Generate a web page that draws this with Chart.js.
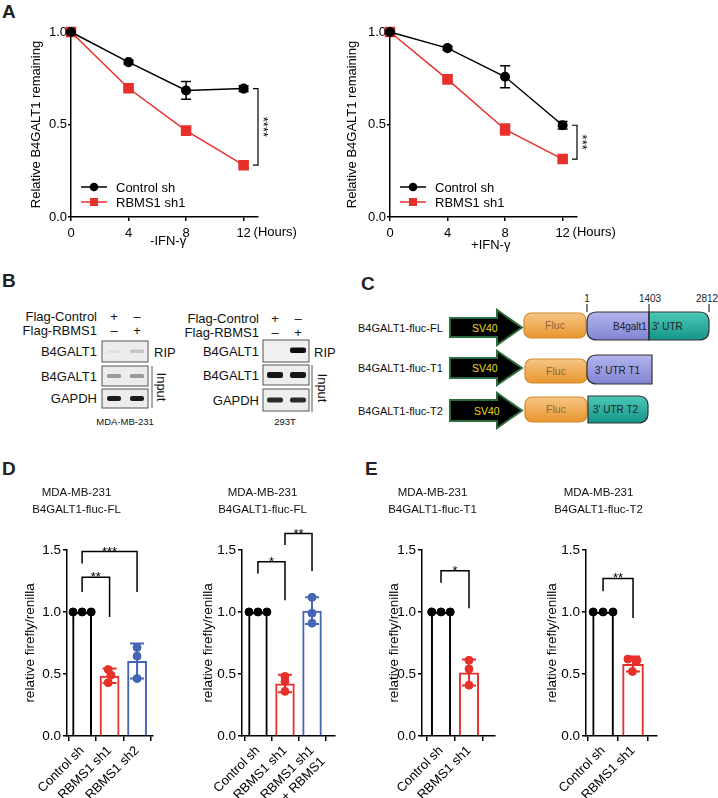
<!DOCTYPE html>
<html>
<head>
<meta charset="utf-8">
<script src="https://cdn.jsdelivr.net/npm/chart.js@4.4.1/dist/chart.umd.min.js"></script>
<style>
  body { margin: 0; background: #fff; }
  #fig { position: relative; width: 718px; height: 798px; overflow: hidden; font-family: "Liberation Sans", Arial, sans-serif; }
  .cv { position: absolute; }
  svg { position: absolute; left: 0; top: 0; }
</style>
</head>
<body>
<div id="fig">
  <svg width="718" height="798" font-family="Liberation Sans, Arial, sans-serif" fill="#111">
    <defs>
      <filter id="soft" x="-30%" y="-80%" width="160%" height="260%"><feGaussianBlur stdDeviation="0.7"/></filter>
      <linearGradient id="gOr" x1="0" y1="0" x2="0" y2="1"><stop offset="0" stop-color="#f7c685"/><stop offset="1" stop-color="#e8962e"/></linearGradient>
      <linearGradient id="gPu" x1="0" y1="0" x2="0" y2="1"><stop offset="0" stop-color="#b3b5ee"/><stop offset="1" stop-color="#8184d2"/></linearGradient>
      <linearGradient id="gTe" x1="0" y1="0" x2="0" y2="1"><stop offset="0" stop-color="#4cc9b7"/><stop offset="1" stop-color="#14958a"/></linearGradient>
    </defs>
    <!-- panel letters -->
    <g font-size="19" font-weight="bold" fill="#222">
      <text x="2" y="18">A</text>
      <text x="2" y="287">B</text>
      <text x="361" y="290">C</text>
      <text x="2" y="475">D</text>
      <text x="365" y="475">E</text>
    </g>

    <!-- B: MDA-MB-231 blot -->
    <g font-size="13">
      <text x="97" y="320.5" text-anchor="end">Flag-Control</text>
      <text x="97" y="334.5" text-anchor="end">Flag-RBMS1</text>
      <text x="114" y="320.5" text-anchor="middle">+</text>
      <text x="137" y="320.5" text-anchor="middle">–</text>
      <text x="114" y="334.5" text-anchor="middle">–</text>
      <text x="137" y="334.5" text-anchor="middle">+</text>
      <text x="97" y="356" text-anchor="end">B4GALT1</text>
      <text x="97" y="380.5" text-anchor="end">B4GALT1</text>
      <text x="97" y="403" text-anchor="end">GAPDH</text>
      <text x="154" y="356.5">RIP</text>
      <text transform="translate(160,387) rotate(90)" text-anchor="middle" dominant-baseline="middle">Input</text>
      <text x="125" y="425" font-size="9.5" text-anchor="middle">MDA-MB-231</text>
    </g>
    <line x1="152" y1="366" x2="152" y2="408" stroke="#555" stroke-width="1"/>
    <rect x="102" y="341" width="46" height="21" fill="#ededed" stroke="#555"/>
    <rect x="102" y="366" width="46" height="20" fill="#ececec" stroke="#555"/>
    <rect x="102" y="389" width="46" height="19" fill="#ececec" stroke="#555"/>
    <g filter="url(#soft)">
      <rect x="107" y="350" width="14" height="3" rx="1.5" fill="#e2e2e2"/>
      <rect x="130" y="349.5" width="14" height="3.5" rx="1.5" fill="#c4c4c4"/>
      <rect x="107" y="374" width="14" height="4" rx="1.5" fill="#9a9a9a"/>
      <rect x="130" y="374" width="14" height="4" rx="1.5" fill="#9a9a9a"/>
      <rect x="107" y="396" width="14" height="5" rx="2" fill="#1e1e1e"/>
      <rect x="130" y="396" width="14" height="5" rx="2" fill="#1e1e1e"/>
    </g>

    <!-- B: 293T blot -->
    <g font-size="13">
      <text x="259" y="322.5" text-anchor="end">Flag-Control</text>
      <text x="259" y="336.5" text-anchor="end">Flag-RBMS1</text>
      <text x="275" y="322.5" text-anchor="middle">+</text>
      <text x="298" y="322.5" text-anchor="middle">–</text>
      <text x="275" y="336.5" text-anchor="middle">–</text>
      <text x="298" y="336.5" text-anchor="middle">+</text>
      <text x="259" y="355.5" text-anchor="end">B4GALT1</text>
      <text x="259" y="380" text-anchor="end">B4GALT1</text>
      <text x="259" y="404.5" text-anchor="end">GAPDH</text>
      <text x="314" y="356.5">RIP</text>
      <text transform="translate(321,388) rotate(90)" text-anchor="middle" dominant-baseline="middle">Input</text>
      <text x="285" y="425" font-size="9.5" text-anchor="middle">293T</text>
    </g>
    <line x1="312" y1="365" x2="312" y2="412" stroke="#555" stroke-width="1"/>
    <rect x="263" y="340" width="46" height="22" fill="#f0f0f0" stroke="#555"/>
    <rect x="263" y="365" width="46" height="20" fill="#eeeeee" stroke="#555"/>
    <rect x="263" y="389" width="46" height="22" fill="#eeeeee" stroke="#555"/>
    <g filter="url(#soft)">
      <rect x="290" y="347.5" width="16" height="5.5" rx="2" fill="#111"/>
      <rect x="267" y="372" width="16" height="6" rx="2" fill="#151515"/>
      <rect x="290" y="372" width="16" height="6" rx="2" fill="#151515"/>
      <rect x="267" y="397.5" width="16" height="5" rx="2" fill="#2a2a2a"/>
      <rect x="290" y="397.5" width="16" height="5" rx="2" fill="#2a2a2a"/>
    </g>

    <!-- C: reporter constructs -->
    <g font-size="11">
      <text x="358" y="332">B4GALT1-fluc-FL</text>
      <text x="358" y="372">B4GALT1-fluc-T1</text>
      <text x="358" y="415">B4GALT1-fluc-T2</text>
    </g>
    <g fill="#000" stroke="#2c6b3c" stroke-width="2" stroke-linejoin="miter">
      <polygon points="450,318 497,318 497,310 522,327.5 497,345 497,337 450,337"/>
      <polygon points="450,358 497,358 497,351 522,368 497,385 497,378 450,378"/>
      <polygon points="450,400 497,400 497,393 522,410.5 497,428 497,421 450,421"/>
    </g>
    <g font-size="10.5" fill="#e6dc1e">
      <text x="472" y="331.5">SV40</text>
      <text x="472" y="372">SV40</text>
      <text x="474" y="414.5">SV40</text>
    </g>
    <g fill="url(#gOr)" stroke="#d0892b" stroke-width="1.2">
      <rect x="524" y="313" width="62" height="25" rx="7"/>
      <rect x="525" y="359" width="62" height="24" rx="7"/>
      <rect x="525" y="397" width="62" height="25" rx="7"/>
    </g>
    <g font-size="10.5" fill="#8b6a3e" text-anchor="middle">
      <text x="555" y="329">Fluc</text>
      <text x="556" y="374.5">Fluc</text>
      <text x="556" y="413">Fluc</text>
    </g>
    <g stroke="#333" stroke-width="1.2">
      <path d="M597 312 H649 V340 H597 Q587 340 587 330 V322 Q587 312 597 312 Z" fill="url(#gPu)"/>
      <path d="M649 312 H699 Q709 312 709 322 V330 Q709 340 699 340 H649 Z" fill="url(#gTe)"/>
      <path d="M597 355 H652 V384 H597 Q587 384 587 374 V365 Q587 355 597 355 Z" fill="url(#gPu)"/>
      <path d="M588 396 H638 Q648 396 648 406 V413 Q648 423 638 423 H588 Z" fill="url(#gTe)"/>
      <line x1="587" y1="304" x2="587" y2="312"/>
      <line x1="649" y1="304" x2="649" y2="340"/>
      <line x1="709" y1="304" x2="709" y2="312"/>
    </g>
    <g font-size="10" fill="#222">
      <text x="587" y="302" text-anchor="middle">1</text>
      <text x="650" y="302" text-anchor="middle">1403</text>
      <text x="707" y="302" text-anchor="middle">2812</text>
      <text x="613" y="330">B4galt1</text>
      <text x="652" y="330">3' UTR</text>
      <text x="595" y="373.5">3' UTR T1</text>
      <text x="593" y="413">3' UTR T2</text>
    </g>
  </svg>

  <canvas class="cv" id="cA1" width="300" height="262" style="left:0px;top:0px"></canvas>
  <canvas class="cv" id="cA2" width="300" height="262" style="left:319px;top:0px"></canvas>
  <canvas class="cv" id="cD1" width="200" height="328" style="left:0px;top:470px"></canvas>
  <canvas class="cv" id="cD2" width="194" height="328" style="left:190px;top:470px"></canvas>
  <canvas class="cv" id="cE1" width="170" height="328" style="left:370px;top:470px"></canvas>
  <canvas class="cv" id="cE2" width="164" height="328" style="left:540px;top:470px"></canvas>
</div>

<script>
// ---- data ----
const hours = [0, 4, 8, 12];
const lineSeries = ["Control sh", "RBMS1 sh1"];
const ctrlMinusIfn = [1.0, 0.837, 0.684, 0.694];
const ctrlMinusIfnSd = [0, 0.01, 0.048, 0.016];
const rbmsMinusIfn = [1.0, 0.696, 0.467, 0.280];
const rbmsMinusIfnSd = [0, 0.008, 0.012, 0.01];
const ctrlPlusIfn = [1.0, 0.913, 0.758, 0.496];
const ctrlPlusIfnSd = [0, 0.01, 0.059, 0.02];
const rbmsPlusIfn = [1.0, 0.744, 0.473, 0.313];
const rbmsPlusIfnSd = [0, 0.01, 0.03, 0.01];
const lineYTicks = [0, 0.5, 1.0];

const barYTicks = [0, 0.5, 1.0, 1.5];

const flGroups = ["Control sh", "RBMS1 sh1", "RBMS1 sh2"];
const flMeans = [1.0, 0.486, 0.605];
const flSd = [0, 0.058, 0.141];
const flReps = [[1, 1, 1], [0.536, 0.49, 0.43], [0.714, 0.644, 0.463]];
const flJitter = [[-0.33, 0, 0.33], [-0.05, 0.05, -0.05], [0, 0, 0]];
const flSig = [[0, 1, 1.28, 1.16, 0.96, "**"], [0, 2, 1.487, 1.39, 1.16, "***"]];

const rescueGroups = ["Control sh", "RBMS1 sh1", ["RBMS1 sh1", "+ RBMS1"]];
const rescueMeans = [1.0, 0.423, 1.01];
const rescueSd = [0, 0.07, 0.108];
const rescueReps = [[1, 1, 1], [0.48, 0.44, 0.36], [1.118, 0.99, 0.91]];
const rescueJitter = [[-0.33, 0, 0.33], [0, 0, 0], [0, 0, 0]];
const rescueSig = [[0, 1, 1.405, 1.31, 1.095, "*"], [1, 2, 1.632, 1.54, 1.33, "**"]];

const t1Groups = ["Control sh", "RBMS1 sh1"];
const t1Means = [1.0, 0.512];
const t1Sd = [0, 0.105];
const t1Reps = [[1, 1, 1], [0.61, 0.54, 0.41]];
const t1Jitter = [[-0.33, 0, 0.33], [0, 0, 0]];
const t1Sig = [[0, 1, 1.333, 1.235, 1.03, "*"]];

const t2Groups = ["Control sh", "RBMS1 sh1"];
const t2Means = [1.0, 0.581];
const t2Sd = [0, 0.06];
const t2Reps = [[1, 1, 1], [0.62, 0.61, 0.52]];
const t2Jitter = [[-0.33, 0, 0.33], [-0.17, 0.13, -0.02]];
const t2Sig = [[0, 1, 1.27, 1.168, 0.952, "**"]];

const BLACK = "#000000";
const RED = "#e8302a";
const BLUE = "#4565b5";
const FONT = "Liberation Sans, Arial, sans-serif";

Chart.defaults.font.family = FONT;
Chart.defaults.color = "#000";
Chart.defaults.animation = false;

// ---- panel A: mRNA decay curves ----
function lineChart(id, ctrl, ctrlSd, rbms, rbmsSd, xTitle, yTitlePad, xTitlePad, stars) {
  const errorBars = {
    id: "errorBars",
    beforeDatasetsDraw(chart) {
      const { ctx, scales: { x, y } } = chart;
      [[ctrl, ctrlSd, BLACK], [rbms, rbmsSd, RED]].forEach(([vals, sd, col]) => {
        ctx.save();
        ctx.strokeStyle = col;
        ctx.lineWidth = 1.5;
        hours.forEach((h, i) => {
          if (!sd[i]) return;
          const px = x.getPixelForValue(h);
          const y1 = y.getPixelForValue(vals[i] + sd[i]);
          const y2 = y.getPixelForValue(vals[i] - sd[i]);
          ctx.beginPath();
          ctx.moveTo(px, y1); ctx.lineTo(px, y2);
          ctx.moveTo(px - 5, y1); ctx.lineTo(px + 5, y1);
          ctx.moveTo(px - 5, y2); ctx.lineTo(px + 5, y2);
          ctx.stroke();
        });
        ctx.restore();
      });
    }
  };
  const extras = {
    id: "extras",
    afterDraw(chart) {
      const { ctx, chartArea: a, scales: { x, y } } = chart;
      ctx.save();
      // "(Hours)" after last tick
      ctx.font = "13px " + FONT;
      ctx.fillStyle = "#000";
      ctx.textBaseline = "top";
      ctx.textAlign = "left";
      ctx.fillText("(Hours)", x.getPixelForValue(12) + 10, a.bottom + 9);
      // legend inside plot
      chart.data.datasets.forEach((ds, i) => {
        const ly = a.top + 155 + i * 15;
        ctx.strokeStyle = ds.borderColor;
        ctx.lineWidth = 1.5;
        ctx.beginPath();
        ctx.moveTo(a.left + 10, ly); ctx.lineTo(a.left + 36, ly);
        ctx.stroke();
        ctx.fillStyle = ds.borderColor;
        if (i === 0) {
          ctx.beginPath(); ctx.arc(a.left + 23, ly, 4.3, 0, Math.PI * 2); ctx.fill();
        } else {
          ctx.fillRect(a.left + 19, ly - 4, 8, 8);
        }
        ctx.fillStyle = "#000";
        ctx.textBaseline = "middle";
        ctx.fillText(ds.label, a.left + 45, ly + 1);
      });
      // significance bracket at 12 h
      const bx = a.right;
      const yA = y.getPixelForValue(ctrl[3]);
      const yB = y.getPixelForValue(rbms[3]);
      ctx.strokeStyle = "#000";
      ctx.lineWidth = 1.2;
      ctx.beginPath();
      ctx.moveTo(bx - 5, yA); ctx.lineTo(bx, yA); ctx.lineTo(bx, yB); ctx.lineTo(bx - 5, yB);
      ctx.stroke();
      ctx.translate(bx + 1, (yA + yB) / 2);
      ctx.rotate(Math.PI / 2);
      ctx.textAlign = "center";
      ctx.textBaseline = "alphabetic";
      ctx.fillText(stars, 0, 0);
      ctx.restore();
    }
  };
  return new Chart(document.getElementById(id), {
    type: "line",
    data: {
      datasets: [
        { label: lineSeries[0], data: hours.map((h, i) => ({ x: h, y: ctrl[i] })),
          borderColor: BLACK, backgroundColor: BLACK, borderWidth: 1.5,
          pointStyle: "circle", pointRadius: 4.3, clip: false },
        { label: lineSeries[1], data: hours.map((h, i) => ({ x: h, y: rbms[i] })),
          borderColor: RED, backgroundColor: RED, borderWidth: 1.5,
          pointStyle: "rect", pointRadius: 6.4, clip: false }
      ]
    },
    options: {
      responsive: false,
      layout: { padding: { left: 0, right: 42, top: 32, bottom: 0 } },
      plugins: { legend: { display: false }, tooltip: { enabled: false } },
      scales: {
        x: {
          type: "linear", min: 0, max: 13,
          afterBuildTicks: s => { s.ticks = hours.map(h => ({ value: h })); },
          afterFit: s => { s.height = 45; },
          ticks: { font: { size: 13 }, padding: 5, callback: v => String(v) },
          grid: { drawOnChartArea: false, tickLength: 4, color: BLACK, lineWidth: 1.5 },
          border: { color: BLACK, width: 1.5 },
          title: { display: true, text: xTitle, font: { size: 13 }, padding: { top: 0, bottom: xTitlePad } }
        },
        y: {
          min: 0, max: 1,
          afterBuildTicks: s => { s.ticks = lineYTicks.map(v => ({ value: v })); },
          afterFit: s => { s.width = 71; },
          ticks: { font: { size: 13 }, padding: 1, callback: v => v.toFixed(1) },
          grid: { drawOnChartArea: false, tickLength: 3, color: BLACK, lineWidth: 1.5 },
          border: { color: BLACK, width: 1.5 },
          title: { display: true, text: "Relative B4GALT1 remaining", font: { size: 13 }, padding: { top: yTitlePad, bottom: 0 } }
        }
      }
    },
    plugins: [errorBars, extras]
  });
}

lineChart("cA1", ctrlMinusIfn, ctrlMinusIfnSd, rbmsMinusIfn, rbmsMinusIfnSd, "  -IFN-γ", 29, 13, "****");
lineChart("cA2", ctrlPlusIfn, ctrlPlusIfnSd, rbmsPlusIfn, rbmsPlusIfnSd, "    +IFN-γ", 26, 9, "***");

// ---- panels D and E: luciferase reporter bars ----
const chartTitles = {
  cD1: "B4GALT1-fluc-FL", cD2: "B4GALT1-fluc-FL", cE1: "B4GALT1-fluc-T1", cE2: "B4GALT1-fluc-T2"
};

function barChart(id, groups, means, sd, reps, jitter, sig, colors, xMin, xMax, yWidth, yTitlePad, rightPad) {
  const errorBars = {
    id: "errorBars",
    afterDatasetsDraw(chart) {
      const { ctx, scales: { x, y } } = chart;
      ctx.save();
      ctx.lineWidth = 2;
      means.forEach((m, i) => {
        if (!sd[i]) return;
        const px = x.getPixelForValue(i);
        const y1 = y.getPixelForValue(m + sd[i]);
        const y2 = y.getPixelForValue(m - sd[i]);
        ctx.strokeStyle = colors[i];
        ctx.beginPath();
        ctx.moveTo(px, y1); ctx.lineTo(px, y2);
        ctx.moveTo(px - 7, y1); ctx.lineTo(px + 7, y1);
        ctx.moveTo(px - 7, y2); ctx.lineTo(px + 7, y2);
        ctx.stroke();
      });
      ctx.restore();
    }
  };
  const brackets = {
    id: "brackets",
    afterDraw(chart) {
      const { ctx, scales: { x, y } } = chart;
      ctx.save();
      ctx.strokeStyle = "#000";
      ctx.fillStyle = "#000";
      ctx.lineWidth = 1.5;
      ctx.font = "13px " + FONT;
      ctx.textAlign = "center";
      sig.forEach(([i, j, top, leftEnd, rightEnd, label]) => {
        const xi = x.getPixelForValue(i), xj = x.getPixelForValue(j);
        const yt = y.getPixelForValue(top);
        ctx.beginPath();
        ctx.moveTo(xi, y.getPixelForValue(leftEnd));
        ctx.lineTo(xi, yt);
        ctx.lineTo(xj, yt);
        ctx.lineTo(xj, y.getPixelForValue(rightEnd));
        ctx.stroke();
        ctx.fillText(label, (xi + xj) / 2, yt + 4);
      });
      ctx.restore();
    }
  };
  const points = reps.map((vals, i) => ({
    type: "scatter",
    data: vals.map((v, k) => ({ x: i + jitter[i][k], y: v })),
    backgroundColor: colors[i], borderColor: colors[i],
    pointRadius: 4, order: 1, clip: false
  }));
  return new Chart(document.getElementById(id), {
    type: "bar",
    data: {
      datasets: [
        { type: "bar", data: means.map((m, i) => ({ x: i, y: m })),
          backgroundColor: "rgba(255,255,255,0)", borderColor: colors, borderWidth: 2,
          borderSkipped: "bottom", categoryPercentage: 1, barPercentage: 0.72, order: 2 },
        ...points
      ]
    },
    options: {
      responsive: false,
      layout: { padding: { left: 0, right: rightPad, top: 0, bottom: 0 } },
      plugins: {
        legend: { display: false },
        tooltip: { enabled: false },
        title: { display: true, text: ["MDA-MB-231", chartTitles[id]], color: "#111",
          font: { size: 11.5, weight: "normal", lineHeight: 1.45 }, padding: { top: 14.6, bottom: 32 } }
      },
      scales: {
        x: {
          type: "linear", min: xMin, max: xMax, offset: false,
          afterBuildTicks: s => { s.ticks = groups.map((g, i) => ({ value: i })); },
          afterFit: s => { s.height = 62; },
          ticks: { font: { size: 13 }, padding: 2, minRotation: 45, maxRotation: 45, autoSkip: false,
            callback: v => groups[v] },
          grid: { drawOnChartArea: false, tickLength: 5, color: BLACK, lineWidth: 1.5 },
          border: { color: BLACK, width: 1.5 }
        },
        y: {
          min: 0, max: 1.5,
          afterBuildTicks: s => { s.ticks = barYTicks.map(v => ({ value: v })); },
          afterFit: s => { s.width = yWidth; },
          ticks: { font: { size: 13.5 }, padding: 2, callback: v => v.toFixed(1) },
          grid: { drawOnChartArea: false, tickLength: 4, color: BLACK, lineWidth: 1.5 },
          border: { color: BLACK, width: 1.5 },
          title: { display: true, text: "relative firefly/renilla", font: { size: 13.5 }, padding: { top: yTitlePad, bottom: 0 } }
        }
      }
    },
    plugins: [errorBars, brackets]
  });
}

barChart("cD1", flGroups, flMeans, flSd, flReps, flJitter, flSig, [BLACK, RED, BLUE], -0.55, 2.58, 67, 22, 47);
barChart("cD2", rescueGroups, rescueMeans, rescueSd, rescueReps, rescueJitter, rescueSig, [BLACK, RED, BLUE], -0.59, 2.85, 52, 10, 49);
barChart("cE1", t1Groups, t1Means, t1Sd, t1Reps, t1Jitter, t1Sig, [BLACK, RED], -0.68, 1.93, 52, 16, 45);
barChart("cE2", t2Groups, t2Means, t2Sd, t2Reps, t2Jitter, t2Sig, [BLACK, RED], -0.57, 1.8, 46, 4, 47);
</script>
</body>
</html>
